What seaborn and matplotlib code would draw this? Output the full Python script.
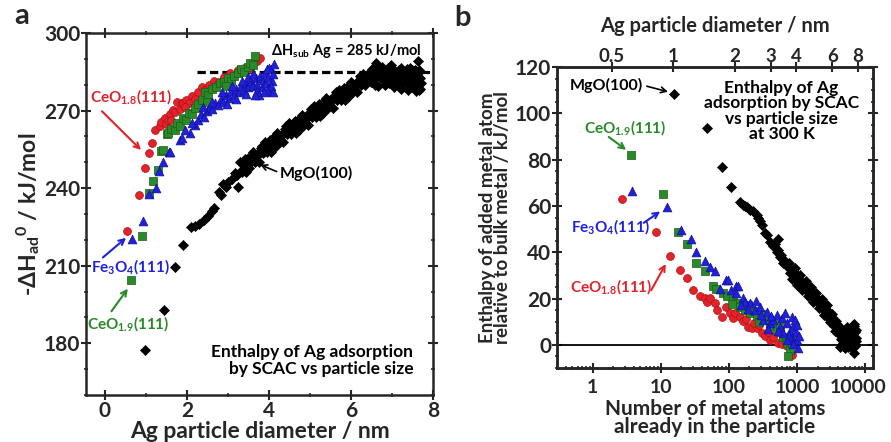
import numpy as np
import pandas as pd
import matplotlib
matplotlib.use("Agg")
import matplotlib.pyplot as plt
import matplotlib.ticker as mticker
import matplotlib.transforms as mtransforms
import seaborn as sns

# ---------------- data: panel a (particle diameter / nm, -dH_ad / kJ/mol) ----------------
a_red_d = [0.55, 0.82, 0.97, 1.08, 1.14, 1.22, 1.34, 1.38, 1.46, 1.50, 1.54, 1.60, 1.67, 1.71, 1.75, 1.83,
           1.87, 1.91, 1.99, 2.05, 2.12, 2.20, 2.28, 2.36, 2.45, 2.55, 2.65, 2.78, 2.90, 3.05, 3.15, 3.25,
           3.38, 3.54, 3.62, 3.70, 3.78, 1.62, 1.95]
a_red_h = [223.5, 237.3, 247.6, 253.7, 257.3, 262.4, 264.0, 265.7, 267.0, 264.8, 266.3, 268.5, 270.2, 269.5,
           273.4, 270.8, 272.8, 272.8, 274.1, 273.0, 275.5, 274.5, 277.0, 279.0, 278.0, 280.0, 281.5, 281.0,
           283.0, 284.4, 283.5, 285.5, 286.5, 286.0, 288.5, 289.0, 290.5, 266.5, 271.5]

a_grn_d = [0.63, 0.90, 1.07, 1.18, 1.30, 1.38, 1.42, 1.52, 1.54, 1.62, 1.70, 1.76, 1.83, 1.90, 1.99, 2.05,
           2.12, 2.20, 2.28, 2.36, 2.44, 2.52, 2.60, 2.70, 2.80, 2.90, 3.00, 3.08, 3.16, 3.25, 3.33, 3.40,
           3.48, 3.55, 3.60, 3.65, 2.48, 2.95]
a_grn_h = [204.6, 221.4, 238.0, 242.8, 247.2, 254.4, 254.7, 260.8, 261.2, 263.0, 262.5, 265.0, 264.0, 267.0,
           266.3, 269.0, 268.5, 271.0, 272.5, 274.0, 277.0, 276.0, 278.5, 279.0, 280.5, 281.0, 282.5, 281.5,
           283.5, 284.5, 286.0, 285.0, 287.0, 288.5, 287.5, 291.0, 273.5, 279.5]

a_blu_d = [0.66, 0.93, 1.08, 1.24, 1.32, 1.41, 1.56, 1.59, 1.83, 1.87, 2.07, 2.20, 1.95, 2.12, 2.28, 2.35,
           2.42, 2.48, 2.55, 2.62, 2.68, 2.75, 2.82, 2.88, 2.95, 3.02, 3.08, 3.14, 3.20, 3.26, 3.32, 3.38,
           3.44, 3.50, 3.56, 3.62, 3.68, 3.72, 3.78, 3.82, 3.86, 3.90, 3.94, 3.98, 4.02, 4.05, 4.08, 4.10,
           4.12, 4.06, 3.70, 3.45, 3.95, 3.20, 2.98, 4.00, 3.50, 3.60, 3.75, 3.88, 4.09, 3.35, 3.10, 2.85,
           2.60, 2.40, 3.65, 3.95]
a_blu_h = [220.4, 227.3, 237.7, 240.1, 246.7, 250.2, 254.0, 254.0, 258.6, 259.2, 261.2, 264.4, 262.5, 265.0,
           266.5, 268.5, 267.5, 270.0, 271.0, 270.5, 273.0, 272.0, 274.5, 273.5, 276.0, 275.0, 277.5, 276.0,
           278.5, 277.0, 279.5, 278.0, 280.5, 279.0, 281.5, 279.5, 282.5, 280.0, 283.5, 279.0, 282.0, 284.5,
           280.5, 283.0, 278.5, 286.0, 281.5, 284.0, 288.0, 279.5, 277.5, 276.5, 277.5, 274.5, 272.5, 286.5,
           283.0, 284.0, 276.0, 277.0, 277.0, 281.5, 279.5, 277.0, 273.5, 271.5, 276.0, 286.0]

a_mgo_d = [0.99, 1.43, 1.72, 1.91, 2.10, 2.20, 2.29, 2.41, 2.52, 2.60, 2.66, 2.79, 2.83, 2.89, 2.95, 3.00,
           3.24, 3.10, 3.17, 3.22,
           3.30, 3.35, 3.40, 3.45, 3.50, 3.55, 3.60, 3.65, 3.70, 3.75, 3.80, 3.85, 3.90, 3.95, 4.00,
           4.05, 4.10, 4.15, 4.20, 4.25, 4.30, 4.35, 4.40, 4.45, 4.50, 4.55, 4.60, 4.65, 4.70, 4.75,
           4.80, 4.85, 4.90, 4.95, 5.00, 5.05, 5.10, 5.15, 5.20, 5.25, 5.30, 5.35, 5.40, 5.45, 5.50,
           5.55, 5.60, 5.65, 5.70, 5.75, 5.80, 5.85, 5.90, 5.95, 6.00, 6.05, 6.10, 6.15, 6.20, 6.25,
           6.30, 6.35, 6.40,
           3.325, 3.425, 3.525, 3.625, 3.725, 3.825, 3.925, 4.025, 4.125, 4.225, 4.325, 4.425, 4.525,
           4.625, 4.725, 4.825, 4.925, 5.025, 5.125, 5.225, 5.325, 5.425, 5.525, 5.625, 5.725, 5.825,
           5.925, 6.025, 6.125, 6.225, 6.325,
           6.45, 6.50, 6.55, 6.60, 6.62, 6.67, 6.70, 6.73, 6.77, 6.80, 6.86, 6.90, 6.93, 6.96, 7.00, 7.03,
           7.06, 7.10, 7.13, 7.16, 7.20, 7.23, 7.26, 7.30, 7.33, 7.36, 7.40, 7.43, 7.46, 7.50, 7.53, 7.56,
           7.60, 7.63, 7.64, 7.66, 7.68, 7.70,
           6.48, 6.52, 6.58, 6.65, 6.75, 6.84, 6.88, 6.98, 7.08, 7.18, 7.21, 7.28, 7.38, 7.45, 7.48, 7.55,
           7.58, 7.62, 7.67, 7.69]
a_mgo_h = [177.5, 192.8, 209.5, 217.9, 224.8, 225.3, 226.1, 227.6, 229.2, 231.0, 232.5, 238.6, 237.5, 241.5,
           240.5, 242.4, 240.3, 243.5, 246.0, 245.0,
           250.0, 246.1, 249.3, 246.4, 251.6, 249.7, 253.9, 250.0, 253.1, 250.3, 255.4, 253.6, 257.7, 253.9,
           257.0, 254.1, 259.2, 257.3, 261.4, 257.5, 260.6, 257.7, 262.8, 260.9, 265.0, 261.0, 264.1, 261.2,
           266.2, 264.3, 268.3, 264.4, 267.4, 264.5, 269.5, 267.6, 271.6, 267.7, 270.7, 267.8, 272.8, 270.9,
           274.9, 271.0, 274.0, 271.0, 276.0, 274.0, 278.0, 274.0, 277.0, 274.0, 279.0, 277.0, 281.0, 277.0,
           280.0, 277.0, 282.0, 280.0, 284.0, 280.0, 283.0,
           246.8, 251.1, 247.9, 252.7, 253.0, 256.3, 254.6, 258.8, 255.5, 260.2, 260.4, 264.1, 261.8, 265.9,
           262.5, 267.1, 267.2, 270.8, 268.4, 272.5, 269.1, 273.7, 273.8, 277.3, 274.8, 278.8, 275.3, 279.8,
           279.8, 283.3, 280.8,
           284.5, 281.0, 285.0, 283.0, 288.5, 279.5, 284.0, 286.0, 282.0, 285.5, 283.0, 286.5, 280.5, 284.5,
           282.0, 286.0, 279.0, 284.0, 281.5, 285.5, 283.0, 278.5, 285.0, 281.0, 283.5, 286.0, 280.0, 284.0,
           282.0, 285.5, 279.0, 283.5, 281.0, 284.5, 289.0, 278.0, 282.5, 280.5,
           283.0, 286.0, 280.0, 284.5, 287.0, 280.0, 284.0, 287.5, 282.5, 280.0, 286.5, 283.0, 278.0, 286.5,
           280.5, 285.5, 277.5, 283.0, 285.5, 278.5]

# ---------------- data: panel b (atoms already in particle, enthalpy relative to bulk / kJ/mol) ----------------
b_red_n = [2.73, 8.4, 13.6, 19, 24.4, 30, 37, 44.5, 47, 52, 62, 66, 78, 92, 103, 116, 123, 145, 160, 192,
           215, 254, 302, 340, 400, 450, 520, 600, 700, 830, 180, 230, 280, 380]
b_red_y = [63, 48.9, 38.4, 32.4, 28.8, 23.8, 20.9, 20.2, 18.7, 20.2, 18, 15.1, 12.2, 16.5, 13.8, 11.5, 13.8,
           12.2, 10.5, 7.9, 7.2, 7.2, 5, 4.0, 2.2, 3.5, 1.0, 0.5, -0.7, -4.3, 11, 9.5, 8.5, 5.5]

b_grn_n = [3.62, 10.8, 17.9, 24.6, 33.4, 44.5, 58.7, 65, 82.5, 95, 115, 130, 145, 170, 202, 230, 260, 300,
           358, 400, 450, 500, 560, 620, 680, 720, 790, 740, 850, 900, 560, 330, 280, 190, 110]
b_grn_y = [81.8, 65.2, 48.9, 43.5, 35.3, 32.1, 25.2, 24, 22.3, 21, 20.2, 18, 16.5, 15, 13.7, 14.5, 12.5, 11.5,
           10.8, 9, 8, 6.5, 5.5, 3.6, 2.5, 1.0, -2.2, -5, 0.5, 2.0, 9.0, 13.5, 10.0, 17.0, 17.5]

b_blu_n = [3.83, 12.4, 20.1, 28.2, 33.4, 44.5, 52.6, 62.1, 73.6, 90.2, 98, 109, 129, 135, 129, 163, 171, 202,
           240, 283, 320, 358, 400, 446, 500, 560, 595, 625, 665, 700, 790, 830, 830, 876, 930, 990, 1030,
           950, 1000, 880, 760, 520, 420, 300, 250, 190, 150, 380, 700, 1050]
b_blu_y = [66.5, 59.5, 49.7, 45.6, 39.9, 36.4, 33.8, 32.1, 24, 27.8, 28, 23.8, 25.5, 25.5, 22.3, 20.2, 18.7,
           18, 15.1, 16.5, 10.8, 14.4, 9.4, 10.8, 13, 7.9, 11.5, 5, 13.7, 9.4, 5.8, 2.9, 12.2, 7.9, 10.8, 2.2,
           -1.3, 5.5, 8.5, 0.5, 4, 6, 12.5, 13, 19, 15.5, 17, 7, 2, 4]

b_mgo_n = [15.5, 47, 78, 109, 146, 163, 175, 182, 195, 203, 227, 254, 270, 283, 302, 336, 360, 400, 528,
           446, 470, 500, 530, 560, 590, 625, 660, 700,
           740, 790, 820, 860, 900, 940, 990, 1030, 1080, 1120, 1180, 1240, 1300, 1360, 1420, 1490, 1560,
           1630, 1700, 1780, 1860, 1950, 2040, 2140, 2240, 2340, 2450, 2560, 2680, 2800, 2930, 3070, 3200,
           3350, 3500, 3660, 3860, 4000, 4200, 4400, 4540, 4700, 4790, 4950, 5100, 5200, 5350, 5500, 5600,
           5750, 5900, 6000, 6150, 6300, 6450, 6600, 6750, 6800, 6900, 7000, 7100, 7200, 5000, 5400, 4600,
           4300,
           760, 840, 920, 1000, 1100, 1200, 1330, 1450, 1600, 1740, 1900, 2090, 2290, 2500, 2740, 3000, 3280,
           3580, 3760, 4100, 4450,
           4000, 4300, 4800, 5200, 5700, 6200, 6600, 7000, 7300, 7300, 6900]
b_mgo_y = [108.5, 93.6, 76.8, 68, 61.5, 60.5, 60, 59.7, 58.8, 58.3, 57.6, 56.2, 54.8, 53.7, 51.8, 48.2, 47.5,
           44.6, 45.8, 42.5, 43.5, 40.3, 41, 38.1, 38.8, 35.3, 36.2, 34.0,
           33.5, 31.0, 32.5, 30.2, 31.4, 29.0, 28.1, 29.5, 27.2, 26.0, 27.3, 25.2, 24.0, 25.6, 23.1, 24.0, 22.3,
           21.0, 22.4, 20.1, 21.0, 19.4, 18.0, 19.0, 16.8, 17.5, 15.1, 16.0, 13.8, 14.5, 12.0, 10.8, 11.8,
           9.5, 8.0, 8.8, 6.5, 5.0, 4.2, 2.5, 2.2, 0.8, -0.7, 1.5, -1.5, 3.0, 0.5, 4.5, -1.0,
           2.0, 5.5, 0.0, 3.5, 7.0, 1.5, 4.5, -3.5, 8.0, 2.5, 5.5, 0.5, 3.0, 6.0, 7.5, 5.0,
           7.0,
           35.5, 28.5, 33.0, 26.0, 30.0, 23.5, 27.5, 21.0, 25.0, 18.5, 22.5, 16.0, 20.0, 13.0, 17.0, 10.0, 13.5,
           6.0, 10.5, 7.5, 5.0,
           8.5, -1.0, 4.0, 7.0, 6.0, -1.0, 8.5, -0.5, 6.5, 1.5, 9.0]

# top axis of panel b: diameter (nm) ticks; atoms per nm^3 of the conversion used by the figure
top_ticks = [0.5, 1, 2, 3, 4, 6, 8]
ATOMS_PER_NM3 = 15.3

RED, GRN, BLU, BLK = "#e3232b", "#2a8a2a", "#2020dd", "#000000"

sns.set_style("ticks")
plt.rcParams["font.family"] = ["Lato", "DejaVu Sans"]
plt.rcParams["font.weight"] = "bold"
plt.rcParams["mathtext.fontset"] = "custom"
plt.rcParams["mathtext.rm"] = "Lato:bold"
plt.rcParams["mathtext.it"] = "Lato:bold"
plt.rcParams["mathtext.bf"] = "Lato:bold"

fig = plt.figure(figsize=(8.91, 4.42), dpi=100)
W, H = 891, 442
ax_a = fig.add_axes([86 / W, 1 - 395 / H, (433 - 86) / W, (395 - 33) / H])
ax_b = fig.add_axes([557 / W, 1 - 368 / H, (873 - 557) / W, (368 - 67) / H])

def scat(ax, x, y, marker, color, s, ec):
    df = pd.DataFrame({"x": x, "y": y})
    sns.scatterplot(data=df, x="x", y="y", marker=marker, color=color, s=s,
                    edgecolor=ec, linewidth=0.5, ax=ax, zorder=3, legend=False)

# ---------- panel a ----------
scat(ax_a, a_mgo_d, a_mgo_h, "D", BLK, 26, BLK)
scat(ax_a, a_red_d, a_red_h, "o", RED, 32, "#b01010")
scat(ax_a, a_grn_d, a_grn_h, "s", GRN, 27, "#1a5a1a")
scat(ax_a, a_blu_d, a_blu_h, "^", BLU, 40, "#101090")
ax_a.plot([2.24, 8.0], [285, 285], color="black", lw=2.3, dashes=(2.6, 1.3), zorder=2)

ax_a.set_xlim(-0.46, 8.0)
ax_a.set_ylim(160, 300)
ax_a.xaxis.set_major_locator(mticker.MultipleLocator(2))
ax_a.xaxis.set_minor_locator(mticker.MultipleLocator(1))
ax_a.yaxis.set_minor_locator(mticker.MultipleLocator(10))
ax_a.set_yticks([180, 210, 240, 270, 300])
ax_a.set_xlabel("Ag particle diameter / nm", fontsize=16.5, fontweight="bold", labelpad=0)
ax_a.set_ylabel("-ΔH$_{ad}$$^{0}$ / kJ/mol", fontsize=16.5, fontweight="bold", labelpad=1)

afs = 11
ax_a.text(0.65, 275.3, "CeO$_{1.8}$(111)", color=RED, fontsize=afs, ha="center", va="center")
ax_a.annotate("", xy=(0.93, 254), xytext=(-0.12, 270.5),
              arrowprops=dict(arrowstyle="->", color=RED, lw=1.5))
ax_a.text(0.63, 209.8, "Fe$_{3}$O$_{4}$(111)", color=BLU, fontsize=afs, ha="center", va="center")
ax_a.annotate("", xy=(0.57, 221.5), xytext=(-0.1, 212.5),
              arrowprops=dict(arrowstyle="->", color=BLU, lw=1.5))
ax_a.text(0.58, 187.6, "CeO$_{1.9}$(111)", color=GRN, fontsize=afs, ha="center", va="center")
ax_a.annotate("", xy=(0.6, 202), xytext=(0.12, 191.5),
              arrowprops=dict(arrowstyle="->", color=GRN, lw=1.5))
ax_a.text(4.27, 245.8, "MgO(100)", color=BLK, fontsize=11.5, ha="left", va="center")
ax_a.annotate("", xy=(3.72, 249.5), xytext=(4.25, 246.0),
              arrowprops=dict(arrowstyle="->", color=BLK, lw=1.2))
ax_a.text(7.72, 293.0, "ΔH$_{sub}$ Ag = 285 kJ/mol", color=BLK, fontsize=10.5, ha="right", va="center")
ax_a.text(7.52, 173.3, "Enthalpy of Ag adsorption\nby SCAC vs particle size", color=BLK,
          fontsize=12.5, ha="right", va="center", multialignment="right", linespacing=1.05)

# ---------- panel b ----------
ax_b.axhline(0, color="black", lw=1.3, zorder=1)
scat(ax_b, b_mgo_n, b_mgo_y, "D", BLK, 26, BLK)
scat(ax_b, b_red_n, b_red_y, "o", RED, 32, "#b01010")
scat(ax_b, b_grn_n, b_grn_y, "s", GRN, 27, "#1a5a1a")
scat(ax_b, b_blu_n, b_blu_y, "^", BLU, 40, "#101090")

ax_b.set_xscale("log")
ax_b.set_xlim(0.3, 13000)
ax_b.set_ylim(-10, 120)
ax_b.xaxis.set_major_locator(mticker.FixedLocator([1, 10, 100, 1000, 10000]))
ax_b.xaxis.set_minor_locator(mticker.LogLocator(base=10, subs=np.arange(2, 10), numticks=20))
ax_b.xaxis.set_major_formatter(mticker.FixedFormatter(["1", "10", "100", "1000", "10000"]))
ax_b.xaxis.set_minor_formatter(mticker.NullFormatter())
ax_b.yaxis.set_minor_locator(mticker.MultipleLocator(5))
ax_b.set_yticks([0, 20, 40, 60, 80, 100, 120])
ax_b.set_xlabel("Number of metal atoms\nalready in the particle", fontsize=15, fontweight="bold",
                labelpad=2, linespacing=0.85)
ax_b.set_ylabel("Enthalpy of added metal atom\nrelative to bulk metal / kJ/mol", fontsize=13.5,
                fontweight="bold", labelpad=3, linespacing=0.86)

ax_top = ax_b.twiny()
ax_top.set_xscale("log")
lo, hi = ax_b.get_xlim()
ax_top.set_xlim((lo / ATOMS_PER_NM3) ** (1 / 3), (hi / ATOMS_PER_NM3) ** (1 / 3))
ax_top.xaxis.set_major_locator(mticker.FixedLocator(top_ticks))
ax_top.xaxis.set_major_formatter(mticker.FixedFormatter([f"{t:g}" for t in top_ticks]))
ax_top.xaxis.set_minor_locator(mticker.NullLocator())
ax_top.set_xlabel("Ag particle diameter / nm", fontsize=14.5, fontweight="bold", va="center")
ax_top.xaxis.set_label_coords(0.5, 1 + (67 - 26) / 301)

bfs = 11
ax_b.text(5.5, 112.0, "MgO(100)", color=BLK, fontsize=11.5, ha="right", va="center")
ax_b.annotate("", xy=(14.0, 109.0), xytext=(5.7, 112.0),
              arrowprops=dict(arrowstyle="->", color=BLK, lw=1.2))
ax_b.text(3.03, 93.7, "CeO$_{1.9}$(111)", color=GRN, fontsize=bfs, ha="center", va="center")
ax_b.annotate("", xy=(3.35, 83.5), xytext=(1.6, 90.5),
              arrowprops=dict(arrowstyle="->", color=GRN, lw=1.5))
ax_b.text(1.83, 51.0, "Fe$_{3}$O$_{4}$(111)", color=BLU, fontsize=bfs, ha="center", va="center")
ax_b.annotate("", xy=(10.6, 58.3), xytext=(5.2, 52.0),
              arrowprops=dict(arrowstyle="->", color=BLU, lw=1.5))
ax_b.text(1.9, 25.0, "CeO$_{1.8}$(111)", color=RED, fontsize=bfs, ha="center", va="center")
ax_b.annotate("", xy=(12.4, 36.0), xytext=(6.9, 22.5),
              arrowprops=dict(arrowstyle="->", color=RED, lw=1.5))
ax_b.text(593, 101.0, "Enthalpy of Ag\nadsorption by SCAC\nvs particle size\nat 300 K", color=BLK,
          fontsize=12.5, ha="center", va="center", linespacing=0.95)

# ---------- common styling ----------
for ax in (ax_a, ax_b, ax_top):
    for sp in ax.spines.values():
        sp.set_linewidth(1.8)
        sp.set_visible(True)
    ax.tick_params(which="major", direction="inout", length=6.5, width=1.5, labelsize=15, pad=1)
    ax.tick_params(which="minor", direction="inout", length=3.5, width=1.2)
    for lab in ax.get_xticklabels() + ax.get_yticklabels():
        lab.set_fontweight("bold")

ax_a.tick_params(which="both", top=True, right=True)
ax_b.tick_params(which="both", top=False, right=True)
ax_b.tick_params(axis="x", which="major", labelsize=14, pad=5)
ax_top.tick_params(which="major", top=True, bottom=False, labeltop=True, labelsize=13.5, pad=-2)

# nudge the last bottom label of panel b so it stays inside the figure
last = ax_b.get_xticklabels()[-1]
last.set_transform(last.get_transform() + mtransforms.ScaledTranslation(-5 / 72, 0, fig.dpi_scale_trans))

fig.text(22 / W, 1 - 16 / H, "a", fontsize=21, fontweight="bold", ha="center", va="center")
fig.text(463 / W, 1 - 18 / H, "b", fontsize=21, fontweight="bold", ha="center", va="center")

fig.savefig("out.png", dpi=100)
